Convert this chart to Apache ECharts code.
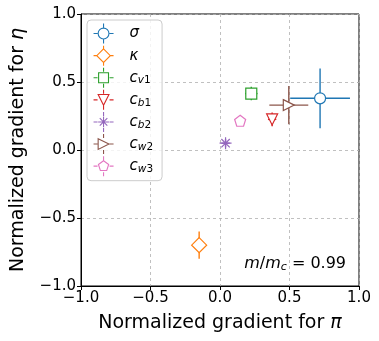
<!DOCTYPE html>
<html>
<head>
<meta charset="utf-8">
<script src="https://cdn.jsdelivr.net/npm/echarts@6/dist/echarts.min.js"></script>
<style>
  html, body { margin: 0; padding: 0; background: #fff; }
  #main { width: 379px; height: 341px; }
</style>
</head>
<body>
<div id="main"></div>
<script>
// gradients and their spread
var names = ['σ', 'κ', 'c_v1', 'c_b1', 'c_b2', 'c_w2', 'c_w3'];
var gradPi = [0.72, -0.15, 0.225, 0.375, 0.04, 0.495, 0.145];
var gradEta = [0.38, -0.70, 0.415, 0.225, 0.05, 0.33, 0.215];
var errPi = [0.215, 0.01, 0.045, 0.03, 0.03, 0.14, 0.025];
var errEta = [0.22, 0.10, 0.05, 0.05, 0.03, 0.14, 0.03];

var colors = ['#1f77b4', '#ff7f0e', '#2ca02c', '#d62728', '#9467bd', '#8c564b', '#e377c2'];

// marker shapes (matplotlib o, D, s, v, asterisk, >, pentagon)
var shapes = [
    'M0,-6A6,6,0,1,1,0,6A6,6,0,1,1,0,-6Z',
    'M0,-7.5L7.5,0L0,7.5L-7.5,0Z',
    'M-5.5,-5.5L5.5,-5.5L5.5,5.5L-5.5,5.5Z',
    'M-6,-6L6,-6L0,6Z',
    'M-6,0L6,0M0,-6L0,6M-4.2,-4.2L4.2,4.2M-4.2,4.2L4.2,-4.2',
    'M-6,-6L6,0L-6,6Z',
    'M0,-6L5.71,-1.85L3.53,4.85L-3.53,4.85L-5.71,-1.85Z'
];
var sizes = [11, 15, 11, 11, 12, 11, 11];
var cross = 'M0,-10L0,-6M0,6L0,10M-10,0L-6,0M6,0L10,0';

var labels = {
    'σ': '{i|σ}',
    'κ': '{i|κ}',
    'c_v1': '{i|c}{si|v}{sn|1}',
    'c_b1': '{i|c}{si|b}{sn|1}',
    'c_b2': '{i|c}{si|b}{sn|2}',
    'c_w2': '{i|c}{si|w}{sn|2}',
    'c_w3': '{i|c}{si|w}{sn|3}'
};

function fmt(v) {
    return v.toFixed(1).replace('-', '\u2212');
}

var chart = echarts.init(document.getElementById('main'));

var series = [{
    type: 'custom',
    name: 'err',
    z: 1,
    data: names.map(function (n, i) { return [gradPi[i], gradEta[i], errPi[i], errEta[i]]; }),
    renderItem: function (params, api) {
        var x = api.value(0), y = api.value(1), ex = api.value(2), ey = api.value(3);
        var c = colors[params.dataIndex];
        var l = api.coord([x - ex, y]), r = api.coord([x + ex, y]);
        var b = api.coord([x, y - ey]), t = api.coord([x, y + ey]);
        return {
            type: 'group',
            children: [
                { type: 'line', shape: { x1: l[0], y1: l[1], x2: r[0], y2: r[1] }, style: { stroke: c, lineWidth: 1.4 } },
                { type: 'line', shape: { x1: b[0], y1: b[1], x2: t[0], y2: t[1] }, style: { stroke: c, lineWidth: 1.4 } }
            ]
        };
    }
}];

names.forEach(function (n, i) {
    series.push({
        type: 'scatter',
        name: n,
        z: 3,
        data: [[gradPi[i], gradEta[i]]],
        symbol: 'path://' + shapes[i],
        symbolSize: sizes[i],
        itemStyle: { color: '#fff', borderColor: colors[i], borderWidth: 1.2, opacity: 1 }
    });
});

var axisCommon = {
    type: 'value',
    min: -1,
    max: 1,
    interval: 0.5,
    nameLocation: 'middle',
    axisLine: { show: true, onZero: false, lineStyle: { color: '#000', width: 1 } },
    axisTick: { show: true, length: 4, lineStyle: { color: '#000' } },
    axisLabel: { fontFamily: 'DejaVu Sans', fontSize: 15, color: '#000', margin: 5, formatter: fmt },
    splitLine: { show: true, lineStyle: { color: '#b0b0b0', type: [3, 3], width: 0.8 } }
};

var nameRich = {
    n: { fontFamily: 'DejaVu Sans', fontSize: 19, color: '#000' },
    i: { fontFamily: 'DejaVu Sans', fontSize: 19, fontStyle: 'italic', color: '#000' }
};

var option = {
    backgroundColor: '#fff',
    animation: false,
    grid: { left: 81, right: 20, top: 14, bottom: 55, show: true, borderColor: '#000', borderWidth: 1, backgroundColor: 'transparent' },
    xAxis: Object.assign({}, axisCommon, {
        name: '{n|Normalized gradient for }{i|π}',
        nameGap: 28,
        nameTextStyle: { rich: nameRich }
    }),
    yAxis: Object.assign({}, axisCommon, {
        name: '{n|Normalized gradient for }{i|η}',
        nameGap: 53,
        nameTextStyle: { rich: nameRich }
    }),
    legend: {
        orient: 'vertical',
        left: 87,
        top: 20,
        padding: [3, 9, 4, 6],
        itemWidth: 28,
        itemHeight: 20,
        itemGap: 1,
        backgroundColor: 'rgba(255,255,255,0.8)',
        borderColor: '#cccccc',
        borderWidth: 1,
        borderRadius: 4,
        selectedMode: false,
        data: names.map(function (n, i) {
            return {
                name: n,
                icon: 'path://' + cross + shapes[i].replace(/-?\d+(\.\d+)?/g, function (s) { return String(parseFloat(s) * 0.9); }),
                itemStyle: { color: '#fff', borderColor: colors[i], borderWidth: 1.1 }
            };
        }),
        formatter: function (n) { return labels[n]; },
        textStyle: {
            padding: [0, 0, 0, 7],
            lineHeight: 18,
            rich: {
                i: { fontFamily: 'DejaVu Sans', fontSize: 15, fontStyle: 'italic', color: '#000', lineHeight: 18 },
                si: { fontFamily: 'DejaVu Sans', fontSize: 10.5, fontStyle: 'italic', color: '#000', lineHeight: 12, padding: [6, 0, 0, 0] },
                sn: { fontFamily: 'DejaVu Sans', fontSize: 10.5, color: '#000', lineHeight: 12, padding: [6, 0, 0, 0] }
            }
        }
    },
    graphic: [{
        type: 'text',
        right: 33,
        top: 256,
        style: {
            text: '{i|m}{n|/}{i|m}{s|c}{n| = 0.99}',
            rich: {
                i: { fontFamily: 'DejaVu Sans', fontSize: 16, fontStyle: 'italic', fill: '#000' },
                n: { fontFamily: 'DejaVu Sans', fontSize: 16, fill: '#000' },
                s: { fontFamily: 'DejaVu Sans', fontSize: 11, fontStyle: 'italic', fill: '#000', padding: [7, 0, 0, 0] }
            }
        }
    }],
    series: series
};

chart.setOption(option);
</script>
</body>
</html>
